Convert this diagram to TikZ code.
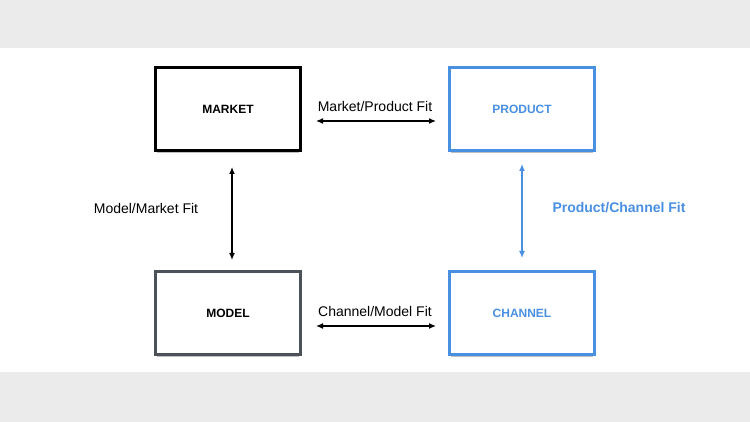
\documentclass[tikz,border=0pt]{standalone}
\usepackage{fontspec}
\setmainfont{Liberation Sans}
\usetikzlibrary{arrows.meta,shadows}

\definecolor{fitblue}{RGB}{74,144,226}
\definecolor{modelgray}{RGB}{75,82,89}
\definecolor{bandgray}{RGB}{235,235,235}

\begin{document}
\begin{tikzpicture}[x=1pt,y=1pt]
\path [use as bounding box] (0,0) rectangle (750,422);
\tikzstyle{stage} = [rectangle, draw, line width=3pt, fill=white, minimum width=145pt, minimum height=83pt, font=\bfseries\fontsize{12}{14}\selectfont, drop shadow={shadow xshift=0pt, shadow yshift=-3pt, opacity=.5, shadow scale=.98}]
\tikzstyle{fit} = [font=\fontsize{14}{16}\selectfont]
\tikzstyle{link} = [{Latex[length=7pt,width=6pt]}-{Latex[length=7pt,width=6pt]}, line width=1.3pt]
\fill[bandgray] (0,0) rectangle (750,422);
\fill[white] (0,50) rectangle (750,374);
\node[stage] (market) at (228,313) {MARKET};
\node[stage, draw=fitblue, text=fitblue] (product) at (522,313) {PRODUCT};
\node[stage, draw=modelgray] (model) at (228,109) {MODEL};
\node[stage, draw=fitblue, text=fitblue] (channel) at (522,109) {CHANNEL};
\draw[link] ([xshift=14pt,yshift=-12pt]market.east) -- ([xshift=-12pt,yshift=-12pt]product.west);
\draw[link] ([xshift=14pt,yshift=-13pt]model.east) -- ([xshift=-12pt,yshift=-13pt]channel.west);
\draw[link] ([xshift=4pt,yshift=-15pt]market.south) -- ([xshift=4pt,yshift=10pt]model.north);
\draw[link, fitblue] ([yshift=-12pt]product.south) -- ([yshift=12pt]channel.north);
\node[fit] (mpfit) at (375,315) {Market/Product Fit};
\node[fit] (cmfit) at (375,110) {Channel/Model Fit};
\node[fit] (mmfit) at (146,213) {Model/Market Fit};
\node[fit, text=fitblue, font=\bfseries\fontsize{14}{16}\selectfont] (pcfit) at (619,214) {Product/Channel Fit};
\end{tikzpicture}
\end{document}
